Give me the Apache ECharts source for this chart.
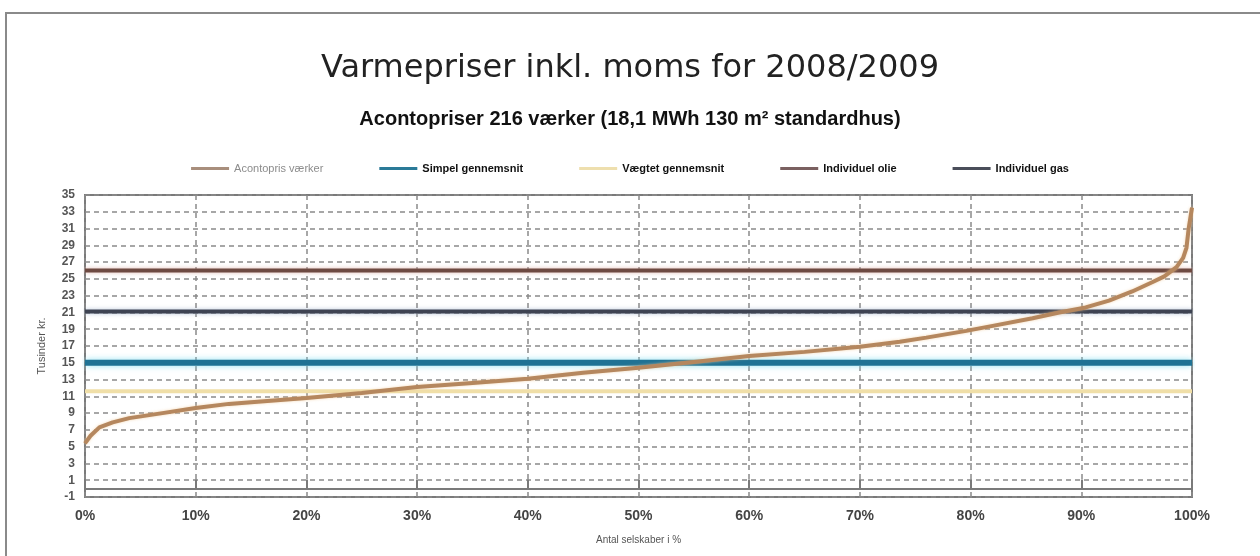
<!DOCTYPE html>
<html>
<head>
<meta charset="utf-8">
<script src="https://cdn.jsdelivr.net/npm/echarts@6/dist/echarts.min.js"></script>
<style>
html,body{margin:0;padding:0;background:#fff;}
#frame{position:absolute;left:5px;top:12px;width:1300px;height:600px;border-left:2px solid #8a8a8a;border-top:2px solid #8a8a8a;}
#chart{position:absolute;left:0;top:0;width:1260px;height:556px;}
</style>
</head>
<body>
<div id="frame"></div>
<div id="chart"></div>
<script>
// ---- data ----
const titleText = 'Varmepriser inkl. moms for 2008/2009';
const subtitleText = 'Acontopriser 216 værker (18,1 MWh 130 m\u00B2 standardhus)';
const seriesNames = ['Acontopris værker', 'Simpel gennemsnit', 'Vægtet gennemsnit', 'Individuel olie', 'Individuel gas'];
// cumulative share of companies (%) and their price (thousand kr.)
const sharePct = [0, 0.5, 1.3, 2.5, 4, 7, 10, 13, 15, 20, 25, 30, 35, 40, 45, 50, 55, 60, 65, 70, 73.6, 76, 79.6, 82, 85.6, 88, 90.4, 92.5, 94.6, 96.4, 97.5, 98.6, 99.2, 99.5, 99.7, 100];
const priceK  = [5.4, 6.3, 7.3, 7.9, 8.4, 9.0, 9.6, 10.1, 10.3, 10.8, 11.4, 12.1, 12.6, 13.1, 13.8, 14.4, 15.1, 15.8, 16.3, 16.9, 17.5, 18.0, 18.8, 19.4, 20.3, 21.0, 21.6, 22.4, 23.5, 24.6, 25.3, 26.4, 27.5, 28.7, 31.0, 33.5];
const simpleAvg = 15.0;
const weightedAvg = 11.6;
const oilPrice = 26.0;
const gasPrice = 21.1;
const yTicks = [-1, 1, 3, 5, 7, 9, 11, 13, 15, 17, 19, 21, 23, 25, 27, 29, 31, 33, 35];

const curve = sharePct.map((p, i) => [p, priceK[i]]);
const flat = v => [[0, v], [100, v]];

const chart = echarts.init(document.getElementById('chart'));
chart.setOption({
  animation: false,
  backgroundColor: 'transparent',
  title: [
    { text: titleText, left: 'center', top: 48,
      textStyle: { fontFamily: 'DejaVu Sans', fontSize: 32, fontWeight: 'normal', color: '#222' } },
    { text: subtitleText, left: 'center', top: 104,
      textStyle: { fontFamily: 'Liberation Sans', fontSize: 20, fontWeight: 'bold', color: '#111' } }
  ],
  legend: {
    top: 158, left: 'center', itemGap: 56, itemWidth: 38, itemHeight: 3, icon: 'rect',
    textStyle: { fontFamily: 'Liberation Sans', fontSize: 11, fontWeight: 'bold', color: '#111' },
    data: [
      { name: seriesNames[0], textStyle: { color: '#8c8c8c', fontWeight: 'normal' } },
      { name: seriesNames[1] },
      { name: seriesNames[2] },
      { name: seriesNames[3] },
      { name: seriesNames[4] }
    ]
  },
  grid: { left: 85, right: 68, top: 195, bottom: 59, show: true, borderColor: '#7a7a7a', borderWidth: 2, backgroundColor: 'transparent' },
  xAxis: {
    type: 'value', min: 0, max: 100, interval: 10,
    name: 'Antal selskaber i %', nameLocation: 'middle', nameGap: 38,
    nameTextStyle: { fontFamily: 'Liberation Sans', fontSize: 10, color: '#555' },
    axisLine: { show: false },
    axisTick: { show: true, inside: true, length: 9, lineStyle: { color: '#7a7a7a', width: 2 } },
    axisLabel: { formatter: '{value}%', margin: 12, fontFamily: 'Liberation Sans', fontSize: 14, fontWeight: 'bold', color: '#444' },
    splitLine: { show: true, lineStyle: { type: [5, 4], color: '#8a8a8a', width: 1.5 } }
  },
  yAxis: {
    type: 'value', min: -1, max: 35,
    name: 'Tusinder kr.', nameLocation: 'middle', nameGap: 38, nameRotate: 90,
    nameTextStyle: { fontFamily: 'Liberation Sans', fontSize: 11, color: '#555' },
    axisLine: { show: false },
    axisTick: { show: false, customValues: yTicks },
    axisLabel: { customValues: yTicks, margin: 10, fontFamily: 'Liberation Sans', fontSize: 12, fontWeight: 'bold', color: '#555' },
    splitLine: { show: true, lineStyle: { type: [5, 4], color: '#8a8a8a', width: 1.5 } }
  },
  series: [
    { name: seriesNames[2], type: 'line', data: flat(weightedAvg), showSymbol: false, silent: true,
      color: '#eedfae', lineStyle: { color: '#f0dfa8', width: 4 }, z: 3 },
    { name: seriesNames[1], type: 'line', data: flat(simpleAvg), showSymbol: false, silent: true,
      color: '#2a7a98', lineStyle: { color: '#1f7294', width: 6, shadowColor: 'rgba(120,220,240,0.8)', shadowBlur: 6 }, z: 3 },
    { name: seriesNames[4], type: 'line', data: flat(gasPrice), showSymbol: false, silent: true,
      color: '#4a4e5a', lineStyle: { color: '#3e4352', width: 4, shadowColor: 'rgba(150,170,200,0.7)', shadowBlur: 4 }, z: 3 },
    { name: seriesNames[3], type: 'line', data: flat(oilPrice), showSymbol: false, silent: true,
      color: '#7a6060', lineStyle: { color: '#6e4a42', width: 4, shadowColor: 'rgba(220,170,160,0.8)', shadowBlur: 4 }, z: 3,
      markLine: { silent: true, symbol: 'none', label: { show: false },
        lineStyle: { type: 'solid', color: '#7a7a7a', width: 2 }, data: [{ yAxis: 0 }] } },
    { name: seriesNames[0], type: 'line', data: curve, showSymbol: false, silent: true,
      color: '#a88e7c', lineStyle: { color: '#b5875e', width: 4, shadowColor: 'rgba(240,200,150,0.7)', shadowBlur: 3 }, z: 4 }
  ]
});
</script>
</body>
</html>
